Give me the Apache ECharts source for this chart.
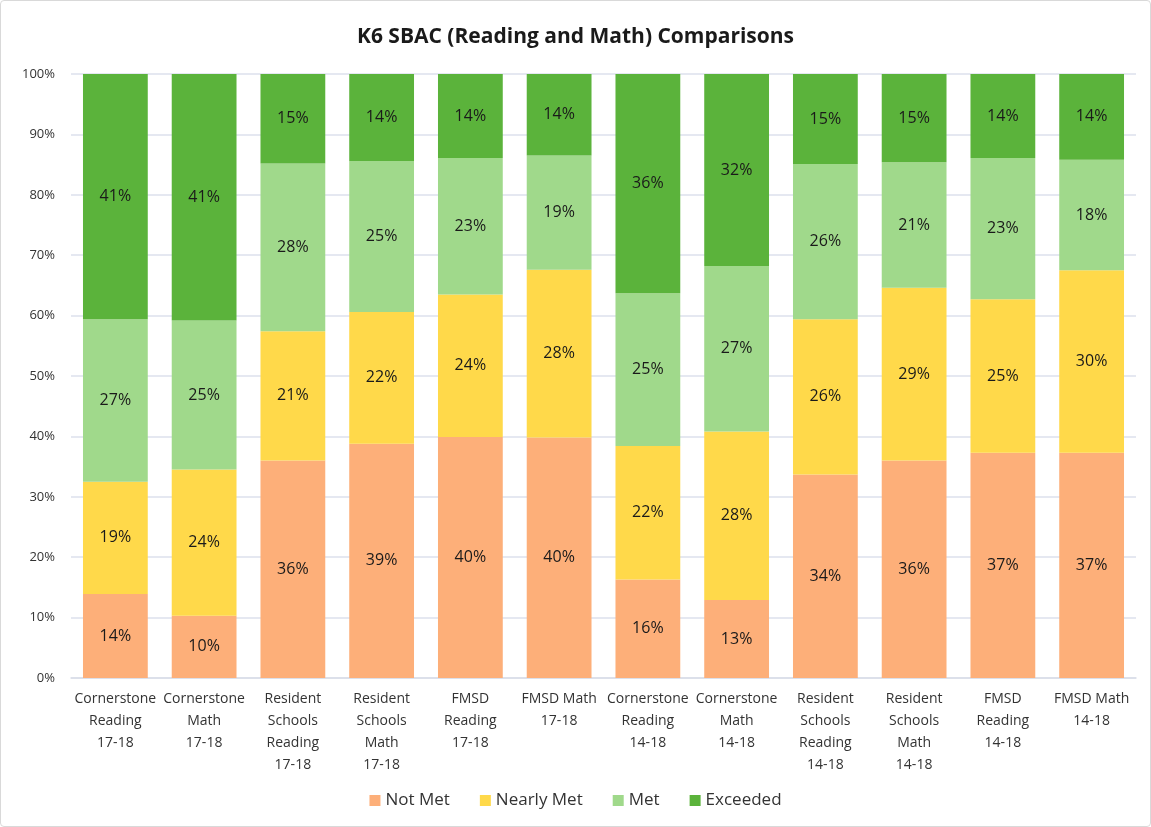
<!DOCTYPE html>
<html>
<head>
<meta charset="utf-8">
<title>K6 SBAC Comparisons</title>
<script src="https://cdn.jsdelivr.net/npm/echarts@6/dist/echarts.min.js"></script>
<style>
  html, body { margin: 0; padding: 0; background: #fff; }
  #chart { width: 1151px; height: 827px; box-sizing: border-box; border: 1px solid #d9d9d9; border-radius: 4px; }
</style>
</head>
<body>
<div id="chart"></div>
<script>
// categories (x axis)
const categories = [
  'Cornerstone\nReading\n17-18',
  'Cornerstone\nMath\n17-18',
  'Resident\nSchools\nReading\n17-18',
  'Resident\nSchools\nMath\n17-18',
  'FMSD\nReading\n17-18',
  'FMSD Math\n17-18',
  'Cornerstone\nReading\n14-18',
  'Cornerstone\nMath\n14-18',
  'Resident\nSchools\nReading\n14-18',
  'Resident\nSchools\nMath\n14-18',
  'FMSD\nReading\n14-18',
  'FMSD Math\n14-18'
]

// percent values per level
const notMet = [13.9, 10.3, 36.0, 38.8, 39.9, 39.8, 16.3, 12.9, 33.7, 36.0, 37.3, 37.3]
const nearlyMet = [18.6, 24.2, 21.4, 21.8, 23.6, 27.8, 22.1, 27.9, 25.7, 28.6, 25.4, 30.2]
const met = [26.9, 24.7, 27.8, 25.0, 22.6, 18.9, 25.3, 27.4, 25.7, 20.8, 23.4, 18.3]
const exceeded = [40.6, 40.8, 14.8, 14.4, 13.9, 13.5, 36.3, 31.8, 14.9, 14.6, 13.9, 14.2]

const yTicks = [0, 10, 20, 30, 40, 50, 60, 70, 80, 90, 100]

const chart = echarts.init(document.getElementById('chart'))

const fontFamily = 'Open Sans, Noto Sans, sans-serif'

function makeSeries(name, data, color) {
  return {
    name: name,
    type: 'bar',
    stack: 'total',
    barCategoryGap: '27%',
    data: data,
    itemStyle: { color: color },
    label: {
      show: true,
      position: 'inside',
      color: '#1a1a1a',
      fontSize: 16,
      fontFamily: fontFamily,
      formatter: p => Math.round(p.value) + '%'
    },
    emphasis: { disabled: true }
  }
}

chart.setOption({
  animation: false,
  textStyle: { fontFamily: fontFamily },
  title: {
    text: 'K6 SBAC (Reading and Math) Comparisons',
    left: 'center',
    top: 21,
    textStyle: { fontSize: 21, fontWeight: 'bold', color: '#1a1a1a', fontFamily: fontFamily }
  },
  legend: {
    bottom: 12,
    left: 'center',
    itemWidth: 11,
    itemHeight: 11,
    itemGap: 30,
    icon: 'rect',
    textStyle: { fontSize: 17, color: '#333', fontFamily: fontFamily },
    data: ['Not Met', 'Nearly Met', 'Met', 'Exceeded']
  },
  grid: {
    left: 70,
    right: 14,
    top: 73,
    bottom: 148
  },
  xAxis: {
    type: 'category',
    data: categories,
    axisTick: { show: false },
    axisLine: { lineStyle: { color: '#d9dde8', width: 1.5 } },
    axisLabel: {
      interval: 0,
      color: '#333',
      fontSize: 14,
      lineHeight: 22,
      margin: 10,
      fontFamily: fontFamily
    }
  },
  yAxis: {
    type: 'value',
    min: yTicks[0],
    max: yTicks[yTicks.length - 1],
    interval: 10,
    axisLine: { show: false },
    axisTick: { show: false },
    splitLine: { lineStyle: { color: '#dde1ec', width: 1.5 } },
    axisLabel: {
      color: '#333',
      fontSize: 13,
      margin: 16,
      fontFamily: fontFamily,
      formatter: v => v + '%'
    }
  },
  series: [
    makeSeries('Not Met', notMet, '#fdaf79'),
    makeSeries('Nearly Met', nearlyMet, '#ffd94a'),
    makeSeries('Met', met, '#a0d98b'),
    makeSeries('Exceeded', exceeded, '#5bb33b')
  ]
})
</script>
</body>
</html>
